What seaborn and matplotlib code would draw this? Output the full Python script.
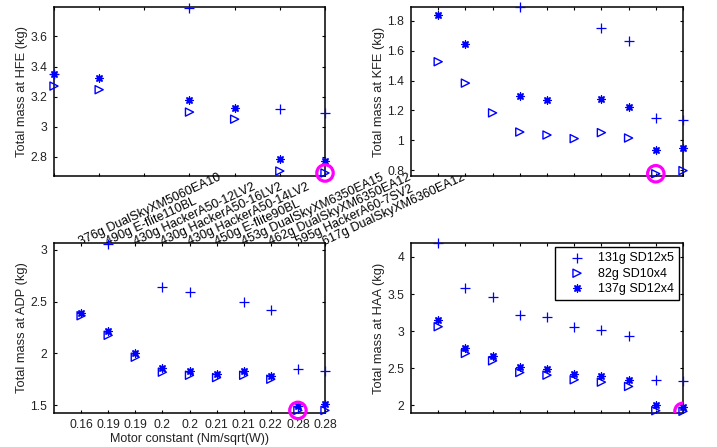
import numpy as np
import matplotlib
matplotlib.use("Agg")
import matplotlib.pyplot as plt
import matplotlib.transforms as mtransforms
from matplotlib.ticker import FixedLocator, FixedFormatter
import seaborn as sns

# ---------------- data ----------------
nan = np.nan
motor_idx = [1, 2, 3, 4, 5, 6, 7, 8, 9, 10]
motor_names = ["376g DualSkyXM5060EA10", "490g E-flite110BL", "430g HackerA50-12LV2",
               "430g HackerA50-16LV2", "430g HackerA50-14LV2", "450g E-flite90BL",
               "453g DualSkyXM6350EA15", "462g DualSkyXM6350EA12", "595g HackerA60-7SV2",
               "617g DualSkyXM6360EA12"]
motor_constants = ["0.16", "0.19", "0.19", "0.2", "0.2", "0.21", "0.21", "0.22", "0.28", "0.28"]
series_labels = ["131g SD12x5", "82g SD10x4", "137g SD12x4"]

hfe_sd12x5 = [nan, nan, nan, 3.352, nan, nan, 3.79, nan, 3.116, 3.088]
hfe_sd10x4 = [nan, nan, nan, 3.27, 3.246, nan, 3.097, 3.05, 2.705, 2.692]
hfe_sd12x4 = [nan, nan, nan, 3.35, 3.325, nan, 3.18, 3.125, 2.785, 2.774]

kfe_sd12x5 = [nan, nan, nan, 1.89, nan, nan, 1.749, 1.668, 1.149, 1.136]
kfe_sd10x4 = [1.526, 1.383, 1.184, 1.056, 1.036, 1.012, 1.052, 1.016, 0.777, 0.798]
kfe_sd12x4 = [1.838, 1.646, nan, 1.297, 1.268, nan, 1.275, 1.224, 0.934, 0.946]

adp_sd12x5 = [nan, 3.05, nan, 2.635, 2.594, nan, 2.498, 2.415, 1.848, 1.835]
adp_sd10x4 = [2.363, 2.175, 1.964, 1.82, 1.79, 1.768, 1.79, 1.752, 1.452, 1.452]
adp_sd12x4 = [2.392, 2.216, 2.002, 1.858, 1.832, 1.80, 1.832, 1.784, 1.49, 1.509]

haa_sd12x5 = [4.185, 3.584, 3.463, 3.217, 3.186, 3.06, 3.016, 2.935, 2.344, 2.322]
haa_sd10x4 = [3.06, 2.70, 2.60, 2.443, 2.407, 2.345, 2.313, 2.255, 1.928, 1.92]
haa_sd12x4 = [3.15, 2.779, 2.671, 2.523, 2.488, 2.425, 2.389, 2.336, 2.0, 1.973]

joint_names = ["HFE", "KFE", "ADP", "HAA"]
selected_motor = [10, 9, 9, 10]

y_ticks = {
    "HFE": ([2.8, 3.0, 3.2, 3.4, 3.6], ["2.8", "3", "3.2", "3.4", "3.6"]),
    "KFE": ([0.8, 1.0, 1.2, 1.4, 1.6, 1.8], ["0.8", "1", "1.2", "1.4", "1.6", "1.8"]),
    "ADP": ([1.5, 2.0, 2.5, 3.0], ["1.5", "2", "2.5", "3"]),
    "HAA": ([2.0, 2.5, 3.0, 3.5, 4.0], ["2", "2.5", "3", "3.5", "4"]),
}
y_limits = {"HFE": (2.672, 3.796), "KFE": (0.762, 1.892),
            "ADP": (1.427, 3.063), "HAA": (1.897, 4.188)}
x_limits = {"HFE": (4, 10), "KFE": (0, 10), "ADP": (0, 10), "HAA": (0, 10)}

panel_data = {
    "HFE": (hfe_sd12x5, hfe_sd10x4, hfe_sd12x4),
    "KFE": (kfe_sd12x5, kfe_sd10x4, kfe_sd12x4),
    "ADP": (adp_sd12x5, adp_sd10x4, adp_sd12x4),
    "HAA": (haa_sd12x5, haa_sd10x4, haa_sd12x4),
}

# ---------------- style ----------------
sns.set_style("ticks", {
    "axes.edgecolor": "black",
    "xtick.direction": "in", "ytick.direction": "in",
    "xtick.top": True, "ytick.right": True,
    "xtick.color": "black", "ytick.color": "black",
})
plt.rcParams["font.family"] = ["Liberation Sans", "DejaVu Sans"]
plt.rcParams.update({
    "axes.linewidth": 1.1,
    "xtick.major.size": 2.5, "ytick.major.size": 2.5,
    "xtick.major.width": 0.8, "ytick.major.width": 0.8,
    "xtick.labelsize": 8.7, "ytick.labelsize": 8.7,
    "axes.labelsize": 9.3,
    "xtick.major.pad": 4, "ytick.major.pad": 5,
    "text.color": "#222222", "axes.labelcolor": "#222222",
    "xtick.labelcolor": "#222222", "ytick.labelcolor": "#222222",
})

W, H = 717, 447
fig = plt.figure(figsize=(W / 100, H / 100), dpi=100)

def frac(x0, y0, x1, y1):
    return [x0 / W, 1 - y1 / H, (x1 - x0) / W, (y1 - y0) / H]

positions = {
    "HFE": frac(54, 7, 325, 176),
    "KFE": frac(411, 7, 683, 176),
    "ADP": frac(54, 243, 325, 413),
    "HAA": frac(411, 243, 683, 413),
}
ylabel_x = {"HFE": -0.095, "KFE": -0.097, "ADP": -0.095, "HAA": -0.097}

blue = (0, 0, 1)
magenta = (1, 0, 1)
axes = {}
for k, joint in enumerate(joint_names):
    ax = fig.add_axes(positions[joint])
    axes[joint] = ax
    plus, tri, star = panel_data[joint]
    lab = joint == "HAA"
    sns.scatterplot(x=motor_idx, y=plus, ax=ax, marker="+", s=50, color=blue,
                    linewidths=0.9, clip_on=False, legend=False,
                    label=series_labels[0] if lab else None, zorder=3)
    sns.scatterplot(x=motor_idx, y=tri, ax=ax, marker=">", s=34, facecolor="none",
                    edgecolor=blue, linewidths=1.0, clip_on=False, legend=False,
                    label=series_labels[1] if lab else None, zorder=3)
    sns.scatterplot(x=motor_idx, y=star, ax=ax, marker=(8, 2, 0), s=26, color=blue,
                    linewidths=1.0, clip_on=False, legend=False,
                    label=series_labels[2] if lab else None, zorder=3)
    # highlighted choice
    sel = selected_motor[k]
    sns.scatterplot(x=[sel], y=[tri[sel - 1]], ax=ax, marker="o", s=140,
                    facecolor="none", edgecolor=magenta, linewidths=2.3,
                    clip_on=(joint == "HAA"), legend=False, zorder=4)

    ax.set_xlim(*x_limits[joint])
    ax.set_ylim(*y_limits[joint])
    yt, yl = y_ticks[joint]
    ax.yaxis.set_major_locator(FixedLocator(yt))
    ax.yaxis.set_major_formatter(FixedFormatter(yl))
    lo, hi = x_limits[joint]
    xt = [i for i in motor_idx if lo <= i <= hi]
    ax.xaxis.set_major_locator(FixedLocator(xt))
    if joint == "ADP":
        ax.xaxis.set_major_formatter(FixedFormatter(motor_constants))
        ax.set_xlabel("Motor constant (Nm/sqrt(W))", labelpad=2, fontsize=9)
    else:
        ax.set_xticklabels([])
        ax.set_xlabel("")
    ax.set_ylabel(f"Total mass at {joint} (kg)")
    ax.yaxis.set_label_coords(ylabel_x[joint], 0.5)
    for sp in ax.spines.values():
        sp.set_visible(True)
        sp.set_color("black")

# rotated motor names (belong to the top-left axes, partly covered by later axes)
trans = mtransforms.blended_transform_factory(axes["ADP"].transData,
                                              axes["ADP"].transAxes)
for i, name in zip(motor_idx, motor_names):
    axes["HFE"].text(i, 0.985, name, transform=trans, rotation=25,
                     rotation_mode="anchor", ha="left", va="baseline",
                     fontsize=9, color="black", clip_on=False)

# keep draw order: HFE first, so later axes cover its overflowing text
for z, joint in enumerate(joint_names):
    axes[joint].set_zorder(z)

leg = axes["HAA"].legend(loc="upper right", frameon=True, fancybox=False,
                         edgecolor="black", framealpha=1, fontsize=9,
                         handlelength=2.7, handletextpad=0.3, labelspacing=0.25,
                         borderpad=0.4, borderaxespad=0.35, scatterpoints=1)
leg.get_frame().set_linewidth(1.0)
for t in leg.get_texts():
    t.set_color("black")

fig.savefig("out.png", dpi=100)
